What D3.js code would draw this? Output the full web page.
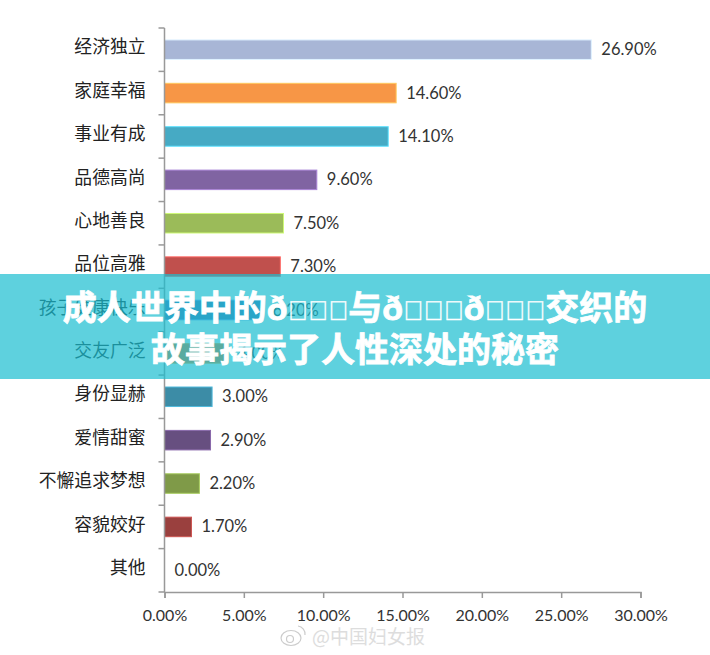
<!DOCTYPE html>
<html>
<head>
<meta charset="utf-8">
<script src="https://cdn.jsdelivr.net/npm/d3@7"></script>
<style>
  html, body { margin: 0; padding: 0; background: #fff; }
  svg { display: block; }
</style>
</head>
<body>
<svg id="chart"></svg>
<script>
const categories = ["经济独立", "家庭幸福", "事业有成", "品德高尚", "心地善良", "品位高雅", "孩子健康快乐", "交友广泛", "身份显赫", "爱情甜蜜", "不懈追求梦想", "容貌姣好", "其他"];
const values = [26.9, 14.6, 14.1, 9.6, 7.5, 7.3, 6.2, 4.0, 3.0, 2.9, 2.2, 1.7, 0];
const barColors = ["#a8b6d6", "#f79646", "#46aac4", "#8064a2", "#9bbb59", "#c0504d", "#4f6db5", "#f08030", "#3c8ca6", "#674f80", "#7f9a48", "#9a403e", "#cccccc"];
const xTicks = [0, 5, 10, 15, 20, 25, 30];
const bannerLines = ["成人世界中的ð\uE000\uE000\uE000与ð\uE000\uE000\uE000ð\uE000\uE000\uE000交织的", "故事揭示了人性深处的秘密"];

const width = 710, height = 655;
const font = "'Noto Sans CJK SC', sans-serif";
const latin = "Lato, sans-serif";

const svg = d3.select("#chart").attr("width", width).attr("height", height);

const x = d3.scaleLinear().domain([0, 30]).range([164.5, 640.5]);
const y = d3.scaleBand().domain(categories).range([28, 592]).paddingInner(0.55).paddingOuter(0.275);

// bars
svg.selectAll("rect.bar")
  .data(values.filter(d => d > 0))
  .enter().append("rect")
  .attr("class", "bar")
  .attr("x", x(0))
  .attr("y", (d, i) => y(categories[i]))
  .attr("width", d => x(d) - x(0))
  .attr("height", y.bandwidth())
  .attr("fill", (d, i) => barColors[i])
  .attr("stroke", (d, i) => d3.color(barColors[i]).brighter(0.8))
  .attr("stroke-width", 1);

// value labels
svg.selectAll("text.val")
  .data(values)
  .enter().append("text")
  .attr("class", "val")
  .attr("x", d => x(d) + 10)
  .attr("y", (d, i) => y(categories[i]) + y.bandwidth() / 2 + 5.5)
  .attr("font-family", latin)
  .attr("font-size", 16.5)
  .attr("fill", "#333")
  .text(d => d.toFixed(2) + "%");

// axes
const yAxis = svg.append("g")
  .attr("transform", `translate(${x(0)},-2)`)
  .call(d3.axisLeft(y).tickSize(0).tickPadding(19));
yAxis.selectAll("text")
  .attr("font-family", font)
  .attr("font-size", 17.8)
  .attr("fill", "#222");
yAxis.select(".domain").attr("stroke", "none");

svg.append("line")
  .attr("x1", x(0)).attr("x2", x(0))
  .attr("y1", 28).attr("y2", 592)
  .attr("stroke", "#999").attr("stroke-width", 1.5);

// ticks sit between the categories, not on them
const step = y.step();
svg.append("g").selectAll("line")
  .data(d3.range(categories.length + 1))
  .enter().append("line")
  .attr("x1", x(0) - 6)
  .attr("x2", x(0))
  .attr("y1", i => 28 + i * step)
  .attr("y2", i => 28 + i * step)
  .attr("stroke", "#999")
  .attr("stroke-width", 1.5);

const xAxis = svg.append("g")
  .attr("transform", "translate(0,592)")
  .call(d3.axisBottom(x).tickValues(xTicks).tickSize(6).tickPadding(12).tickFormat(d => d.toFixed(2) + "%"));
xAxis.selectAll("text")
  .attr("font-family", latin)
  .attr("font-size", 16)
  .attr("fill", "#333");
xAxis.selectAll("line").attr("stroke", "#999").attr("stroke-width", 1.5);
xAxis.select(".domain").attr("stroke", "#999").attr("stroke-width", 1.5);

// watermark
const mark = svg.append("g").attr("fill", "none").attr("stroke", "#ccc").attr("stroke-width", 1.2);
mark.append("ellipse").attr("cx", 291).attr("cy", 638).attr("rx", 10).attr("ry", 7.5);
mark.append("circle").attr("cx", 290).attr("cy", 639).attr("r", 3.5);
mark.append("path").attr("d", "M298 626a8 8 0 0 1 7 9");
svg.append("text")
  .attr("x", 312).attr("y", 644)
  .attr("font-family", font)
  .attr("font-size", 19)
  .attr("fill", "#ddd")
  .text("@中国妇女报");

// banner over the chart
svg.append("rect")
  .attr("x", 0).attr("y", 274)
  .attr("width", width).attr("height", 105)
  .attr("fill", "#1abdd0")
  .attr("fill-opacity", 0.7);

const banner = svg.selectAll("text.banner")
  .data(bannerLines)
  .enter().append("text")
  .attr("class", "banner")
  .attr("x", 355)
  .attr("y", (d, i) => 320 + i * 42)
  .attr("text-anchor", "middle")
  .attr("font-family", "'Liberation Sans', " + font)
  .attr("font-weight", 700)
  .attr("font-size", 34)
  .attr("fill", "#fff")
  .attr("stroke", "#fff")
  .attr("stroke-width", 0.8);

// the missing-glyph boxes are narrower than the other characters
banner.selectAll("tspan")
  .data(d => d.match(/\uE000+|[^\uE000]+/g))
  .enter().append("tspan")
  .attr("font-size", d => d[0] === "\uE000" ? 27 : null)
  .attr("stroke-width", d => d[0] === "\uE000" ? 0.3 : null)
  .text(d => d);
</script>
</body>
</html>
